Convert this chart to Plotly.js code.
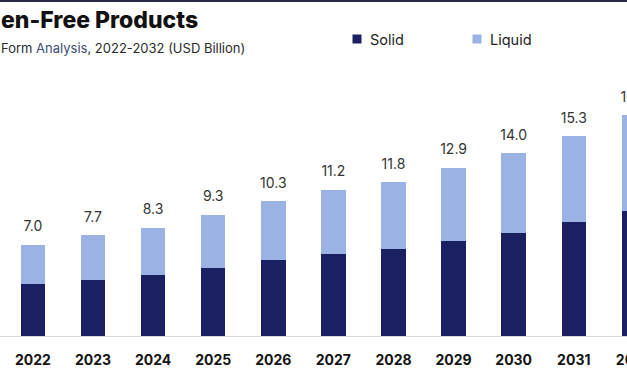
<!DOCTYPE html>
<html>
<head>
<meta charset="utf-8">
<script src="https://cdn.plot.ly/plotly-3.0.1.min.js"></script>
<style>
  html, body { margin: 0; padding: 0; background: #ffffff; overflow: hidden; width: 627px; height: 376px; }
  #chart { width: 700px; height: 376px; }
</style>
</head>
<body>
<div id="chart"></div>
<script>
// ---- data ----
const years = ['2022','2023','2024','2025','2026','2027','2028','2029','2030','2031','2032'];
const solid = [4.0, 4.3, 4.7, 5.2, 5.8, 6.3, 6.7, 7.3, 7.9, 8.7, 9.6];
const liquid = [3.0, 3.4, 3.6, 4.1, 4.5, 4.9, 5.1, 5.6, 6.1, 6.6, 7.3];
const totalLabels = ['7.0','7.7','8.3','9.3','10.3','11.2','11.8','12.9','14.0','15.3','16.9'];
const seriesNames = ['Solid', 'Liquid'];
const titleText = 'en-Free Products';
const subtitleParts = ['Form ', 'Analysis', ', 2022-2032 (USD Billion)'];

// ---- style ----
const solidColor = '#1b2063';
const liquidColor = '#9bb2e4';
const W = 700, H = 376, T = 80, B = 40;
const plotH = H - T - B;
const py = p => (H - B - p) / plotH;   // pixel y -> paper y
const px = p => p / W;                 // pixel x -> paper x

const totals = solid.map((s, i) => s + liquid[i]);

const traces = [
  { type: 'bar', name: seriesNames[0], x: years, y: solid,
    marker: { color: solidColor }, hoverinfo: 'x+y+name', showlegend: false },
  { type: 'bar', name: seriesNames[1], x: years, y: liquid,
    marker: { color: liquidColor }, hoverinfo: 'x+y+name', showlegend: false },
  { type: 'scatter', mode: 'markers+text', x: years, y: totals, text: totalLabels,
    textposition: 'top center', cliponaxis: false,
    textfont: { family: 'Inter, sans-serif', size: 14, color: '#333333' },
    marker: { size: 14, color: 'rgba(0,0,0,0)' }, hoverinfo: 'skip', showlegend: false }
];

const layout = {
  width: W, height: H,
  margin: { l: 0, r: 0, t: T, b: B },
  paper_bgcolor: '#ffffff', plot_bgcolor: '#ffffff',
  barmode: 'stack', bargap: 0.592,
  showlegend: false,
  xaxis: {
    type: 'category', range: [-0.5474, 11.10],
    showline: true, linecolor: '#d9d9d9', linewidth: 1,
    ticks: '', ticklabelstandoff: 11, showgrid: false, zeroline: false,
    tickfont: { family: 'Inter, sans-serif', size: 14, weight: 700, color: '#141414' },
    fixedrange: true
  },
  yaxis: { range: [0, plotH / 13.06], visible: false, showgrid: false, zeroline: false, fixedrange: true },
  shapes: [
    { type: 'rect', xref: 'paper', yref: 'paper', x0: 0, x1: 1, y0: py(2), y1: py(0),
      fillcolor: '#262a45', line: { width: 0 } },
    { type: 'rect', xref: 'paper', yref: 'paper', x0: px(352.5), x1: px(361.5), y0: py(43.5), y1: py(34.5),
      fillcolor: solidColor, line: { width: 0 } },
    { type: 'rect', xref: 'paper', yref: 'paper', x0: px(472.5), x1: px(481.5), y0: py(43.5), y1: py(34.5),
      fillcolor: liquidColor, line: { width: 0 } }
  ],
  annotations: [
    { xref: 'paper', yref: 'paper', x: px(-1), y: py(20), xanchor: 'left', yanchor: 'middle',
      text: titleText, showarrow: false,
      font: { family: 'Inter, sans-serif', size: 23, weight: 800, color: '#111111' } },
    { xref: 'paper', yref: 'paper', x: px(-1), y: py(48), xanchor: 'left', yanchor: 'middle',
      text: subtitleParts[0] + '<span style="color:#3d4d73">' + subtitleParts[1] + '</span>' + subtitleParts[2],
      showarrow: false,
      font: { family: 'Inter, sans-serif', size: 13, color: '#2b2b2b' } },
    { xref: 'paper', yref: 'paper', x: px(368), y: py(39), xanchor: 'left', yanchor: 'middle',
      text: seriesNames[0], showarrow: false,
      font: { family: 'Inter, sans-serif', size: 14.5, color: '#222222' } },
    { xref: 'paper', yref: 'paper', x: px(488), y: py(39), xanchor: 'left', yanchor: 'middle',
      text: seriesNames[1], showarrow: false,
      font: { family: 'Inter, sans-serif', size: 14.5, color: '#222222' } }
  ]
};

Plotly.newPlot('chart', traces, layout, { displayModeBar: false, staticPlot: true });
</script>
</body>
</html>
